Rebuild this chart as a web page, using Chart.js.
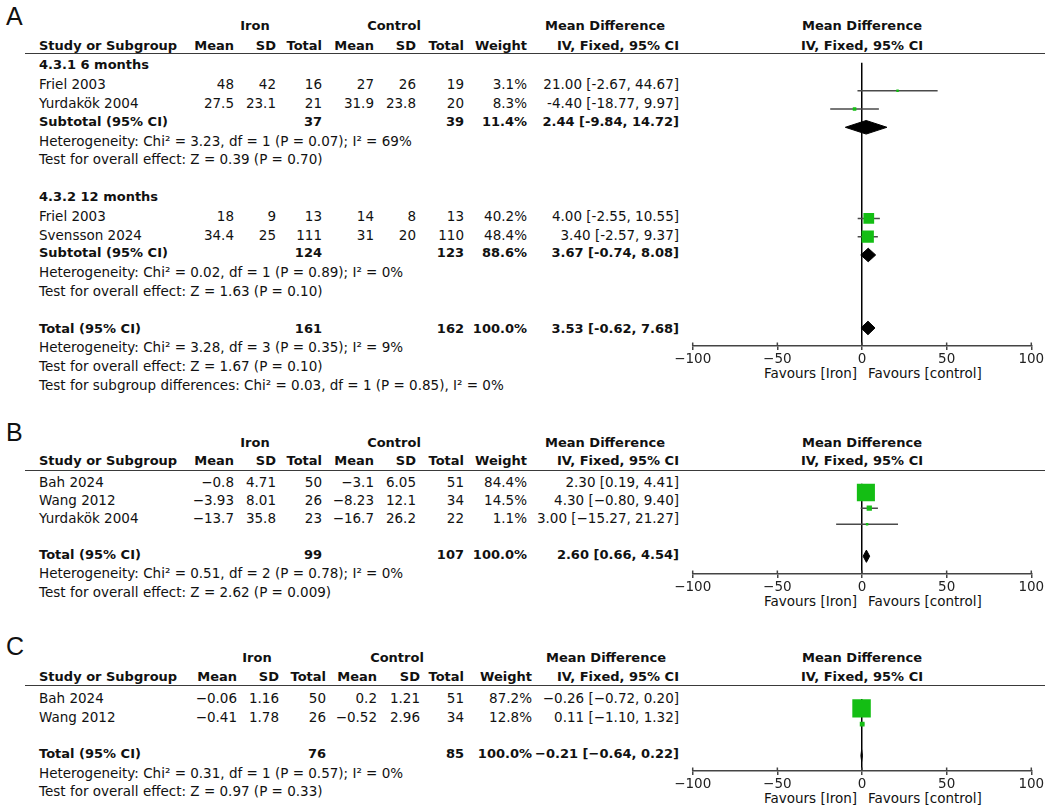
<!DOCTYPE html>
<html>
<head>
<meta charset="utf-8">
<script src="https://cdn.jsdelivr.net/npm/chart.js@4.4.1/dist/chart.umd.min.js"></script>
<style>
  body { margin: 0; background: #fff; }
  #page { position: relative; width: 1049px; height: 810px; overflow: hidden; background: #fff;
          font-family: "DejaVu Sans", sans-serif; color: #111; }
  .t { position: absolute; white-space: nowrap; font-size: 13.5px; line-height: 16px; }
  .b { font-weight: bold; font-size: 13px; }
  .rule { position: absolute; height: 0; border-top: 1.5px solid #3a3a3a; }
  .letter { position: absolute; font-family: "Liberation Sans", sans-serif; font-size: 25px; line-height: 28px; }
  canvas { position: absolute; }
</style>
</head>
<body>
<div id="page"></div>
<script>
// ---------- A: two subgroups (6 / 12 months) ----------
var aStudy    = ["Friel 2003", "Yurdakök 2004", "Friel 2003", "Svensson 2024"];
var aGroupOf  = [0, 0, 1, 1];
var aIronMean = [48, 27.5, 18, 34.4];
var aIronSD   = [42, 23.1, 9, 25];
var aIronN    = [16, 21, 13, 111];
var aCtrlMean = [27, 31.9, 14, 31];
var aCtrlSD   = [26, 23.8, 8, 20];
var aCtrlN    = [19, 20, 13, 110];
var aWeight   = [3.1, 8.3, 40.2, 48.4];
var aMD       = [21.00, -4.40, 4.00, 3.40];
var aLo       = [-2.67, -18.77, -2.55, -2.57];
var aHi       = [44.67, 9.97, 10.55, 9.37];

var aGroupName = ["4.3.1 6 months", "4.3.2 12 months"];
var aSubIronN  = [37, 124];
var aSubCtrlN  = [39, 123];
var aSubWeight = [11.4, 88.6];
var aSubMD     = [2.44, 3.67];
var aSubLo     = [-9.84, -0.74];
var aSubHi     = [14.72, 8.08];
var aSubHet = ["Heterogeneity: Chi² = 3.23, df = 1 (P = 0.07); I² = 69%",
               "Heterogeneity: Chi² = 0.02, df = 1 (P = 0.89); I² = 0%"];
var aSubZ   = ["Test for overall effect: Z = 0.39 (P = 0.70)",
               "Test for overall effect: Z = 1.63 (P = 0.10)"];

var aTotN      = [161, 162];
var aTotEffect = [3.53, -0.62, 7.68];
var aTotNotes  = ["Heterogeneity: Chi² = 3.28, df = 3 (P = 0.35); I² = 9%",
                  "Test for overall effect: Z = 1.67 (P = 0.10)",
                  "Test for subgroup differences: Chi² = 0.03, df = 1 (P = 0.85), I² = 0%"];

// ---------- B ----------
var bStudy    = ["Bah 2024", "Wang 2012", "Yurdakök 2004"];
var bIronMean = [-0.8, -3.93, -13.7];
var bIronSD   = [4.71, 8.01, 35.8];
var bIronN    = [50, 26, 23];
var bCtrlMean = [-3.1, -8.23, -16.7];
var bCtrlSD   = [6.05, 12.1, 26.2];
var bCtrlN    = [51, 34, 22];
var bWeight   = [84.4, 14.5, 1.1];
var bMD       = [2.30, 4.30, 3.00];
var bLo       = [0.19, -0.80, -15.27];
var bHi       = [4.41, 9.40, 21.27];
var bTotN      = [99, 107];
var bTotEffect = [2.60, 0.66, 4.54];
var bTotNotes  = ["Heterogeneity: Chi² = 0.51, df = 2 (P = 0.78); I² = 0%",
                  "Test for overall effect: Z = 2.62 (P = 0.009)"];

// ---------- C ----------
var cStudy    = ["Bah 2024", "Wang 2012"];
var cIronMean = [-0.06, -0.41];
var cIronSD   = [1.16, 1.78];
var cIronN    = [50, 26];
var cCtrlMean = [0.2, -0.52];
var cCtrlSD   = [1.21, 2.96];
var cCtrlN    = [51, 34];
var cWeight   = [87.2, 12.8];
var cMD       = [-0.26, 0.11];
var cLo       = [-0.72, -1.10];
var cHi       = [0.20, 1.32];
var cTotN      = [76, 85];
var cTotEffect = [-0.21, -0.64, 0.22];
var cTotNotes  = ["Heterogeneity: Chi² = 0.31, df = 1 (P = 0.57); I² = 0%",
                  "Test for overall effect: Z = 0.97 (P = 0.33)"];

// shared labels
var xTicks     = [-100, -50, 0, 50, 100];
var groupHeads = ["Iron", "Control"];
var colHeads   = ["Mean", "SD", "Total", "Mean", "SD", "Total", "Weight", "IV, Fixed, 95% CI"];
var favours    = ["Favours [Iron]", "Favours [control]"];

// ---------- page helpers ----------
var W = 1049;
var page = document.getElementById("page");

function txt(x, y, s, align, bold) {
  var d = document.createElement("div");
  d.className = "t" + (bold ? " b" : "");
  d.textContent = s;
  d.style.top = (y - 8) + "px";
  if (align === "right") d.style.right = (W - x) + "px";
  else if (align === "center") { d.style.left = x + "px"; d.style.transform = "translateX(-50%)"; }
  else d.style.left = x + "px";
  page.appendChild(d);
}

function studies(names, im, isd, inn, cm, csd, cn, w, md, lo, hi) {
  return names.map(function (n, i) {
    return { name: n, im: im[i], isd: isd[i], inn: inn[i], cm: cm[i], csd: csd[i], cn: cn[i],
             w: w[i], md: md[i], lo: lo[i], hi: hi[i] };
  });
}

function pool(label, nI, nC, w, eff) {
  return { kind: "pool", label: label, nI: nI, nC: nC, w: w, md: eff[0], lo: eff[1], hi: eff[2] };
}

// rows of panel A
var studyA = studies(aStudy, aIronMean, aIronSD, aIronN, aCtrlMean, aCtrlSD, aCtrlN, aWeight, aMD, aLo, aHi);
var rowsA = [];
aGroupName.forEach(function (g, gi) {
  rowsA.push({ kind: "head", text: g });
  studyA.forEach(function (s, i) { if (aGroupOf[i] === gi) rowsA.push({ kind: "study", s: s }); });
  rowsA.push(pool("Subtotal (95% CI)", aSubIronN[gi], aSubCtrlN[gi], aSubWeight[gi],
                  [aSubMD[gi], aSubLo[gi], aSubHi[gi]]));
  rowsA.push({ kind: "note", text: aSubHet[gi] });
  rowsA.push({ kind: "note", text: aSubZ[gi] });
  rowsA.push({ kind: "blank" });
});
rowsA.push(pool("Total (95% CI)", aTotN[0], aTotN[1], 100, aTotEffect));
aTotNotes.forEach(function (t) { rowsA.push({ kind: "note", text: t }); });

function simpleRows(st, totN, totEff, notes) {
  var rows = st.map(function (s) { return { kind: "study", s: s }; });
  rows.push({ kind: "blank" });
  rows.push(pool("Total (95% CI)", totN[0], totN[1], 100, totEff));
  notes.forEach(function (t) { rows.push({ kind: "note", text: t }); });
  return rows;
}
var rowsB = simpleRows(studies(bStudy, bIronMean, bIronSD, bIronN, bCtrlMean, bCtrlSD, bCtrlN, bWeight, bMD, bLo, bHi),
                       bTotN, bTotEffect, bTotNotes);
var rowsC = simpleRows(studies(cStudy, cIronMean, cIronSD, cIronN, cCtrlMean, cCtrlSD, cCtrlN, cWeight, cMD, cLo, cHi),
                       cTotN, cTotEffect, cTotNotes);

// layout per panel (pixels)
var layA = { letter: "A", letterY: 16,  h1: 26,    h2: 45.5,  rule: 54,  y0: 64.2,  rowH: 18.8, axis: 346,
             cols: [234, 276, 322, 374, 416, 464, 527, 679], iron: 255, control: 394, md: 605, minus: "-" };
var layB = { letter: "B", letterY: 432, h1: 442.5, h2: 461,   rule: 471, y0: 480.5, rowH: 18.3, axis: 574,
             cols: [234, 276, 322, 374, 416, 464, 527, 679], iron: 255, control: 394, md: 605, minus: "−" };
var layC = { letter: "C", letterY: 646, h1: 657.5, h2: 676.5, rule: 686, y0: 697,   rowH: 18.6, axis: 771,
             cols: [237, 279, 326, 377, 420, 464, 532, 679], iron: 257, control: 397, md: 606, minus: "−" };

var tickUp = {
  id: "tickUp",
  afterDraw: function (chart) {
    var s = chart.scales.x, ctx = chart.ctx, b = chart.chartArea.bottom;
    ctx.save();
    ctx.strokeStyle = "#444";
    ctx.lineWidth = 1.5;
    s.ticks.forEach(function (t) {
      var x = s.getPixelForValue(t.value);
      ctx.beginPath(); ctx.moveTo(x, b - 3.5); ctx.lineTo(x, b); ctx.stroke();
    });
    ctx.restore();
  }
};

function panel(L, rows) {
  var m = L.minus;
  function f(v) { return String(v).replace("-", m); }
  function f2(v) { return v.toFixed(2).replace("-", m); }
  function ci(md, lo, hi) { return f2(md) + " [" + f2(lo) + ", " + f2(hi) + "]"; }

  var l = document.createElement("div");
  l.className = "letter"; l.textContent = L.letter;
  l.style.left = "6px"; l.style.top = (L.letterY - 14) + "px";
  page.appendChild(l);

  txt(L.iron, L.h1, groupHeads[0], "center", true);
  txt(L.control, L.h1, groupHeads[1], "center", true);
  txt(L.md, L.h1, "Mean Difference", "center", true);
  txt(862, L.h1, "Mean Difference", "center", true);
  txt(39, L.h2, "Study or Subgroup", "left", true);
  colHeads.forEach(function (h, i) { txt(L.cols[i], L.h2, h, "right", true); });
  txt(862, L.h2, "IV, Fixed, 95% CI", "center", true);

  var r = document.createElement("div");
  r.className = "rule";
  r.style.left = "25px"; r.style.width = "1020px"; r.style.top = (L.rule - 0.75) + "px";
  page.appendChild(r);

  var sq = [], sqSide = [], ciSets = [], dia = [];
  var d = 7 / L.rowH;
  rows.forEach(function (row, k) {
    var y = L.y0 + k * L.rowH + 1.2;
    var c = L.cols;
    if (row.kind === "head") txt(39, y, row.text, "left", true);
    if (row.kind === "note") txt(39, y, row.text, "left", false);
    if (row.kind === "study") {
      var s = row.s;
      txt(39, y, s.name, "left", false);
      [f(s.im), f(s.isd), s.inn, f(s.cm), f(s.csd), s.cn, s.w.toFixed(1) + "%", ci(s.md, s.lo, s.hi)]
        .forEach(function (v, i) { txt(c[i], y, String(v), "right", false); });
      sq.push({ x: s.md, y: k });
      sqSide.push(Math.max(2.5, 0.81 * Math.pow(s.w, 0.7)));
      ciSets.push({ data: [{ x: s.lo, y: k }, { x: s.hi, y: k }], showLine: true,
                    borderColor: "#4a4a4a", borderWidth: 1.5, pointRadius: 0, order: 2 });
    }
    if (row.kind === "pool") {
      txt(39, y, row.label, "left", true);
      txt(c[2], y, String(row.nI), "right", true);
      txt(c[5], y, String(row.nC), "right", true);
      txt(c[6], y, row.w.toFixed(1) + "%", "right", true);
      txt(c[7], y, ci(row.md, row.lo, row.hi), "right", true);
      dia.push({ data: [{ x: row.lo, y: k }, { x: row.md, y: k - d }, { x: row.hi, y: k },
                        { x: row.md, y: k + d }, { x: row.lo, y: k }],
                 showLine: true, fill: "shape", backgroundColor: "#000", borderColor: "#000",
                 borderWidth: 1, pointRadius: 0, tension: 0, order: 1 });
    }
  });

  txt(857, L.axis + 27, favours[0], "right", false);
  txt(868, L.axis + 27, favours[1], "left", false);

  // plot canvas
  var axisH = 40;
  var plotH = L.axis - L.rule;
  var cv = document.createElement("canvas");
  cv.width = 449; cv.height = plotH + axisH;
  cv.style.left = "600px"; cv.style.top = L.rule + "px";
  page.appendChild(cv);

  var datasets = [{
    data: sq, pointStyle: "rect", backgroundColor: "#14be14", borderWidth: 0,
    pointRadius: sqSide.map(function (v) { return v / Math.SQRT2; }),
    pointHoverRadius: sqSide.map(function (v) { return v / Math.SQRT2; }), order: 0
  }].concat(ciSets, dia);

  new Chart(cv.getContext("2d"), {
    type: "scatter",
    data: { datasets: datasets },
    options: {
      responsive: false,
      animation: false,
      layout: { padding: { left: 92.7, right: 17.7, top: 0, bottom: 0 } },
      plugins: { legend: { display: false }, tooltip: { enabled: false } },
      scales: {
        x: {
          type: "linear", min: -100, max: 100,
          afterBuildTicks: function (s) { s.ticks = xTicks.map(function (v) { return { value: v }; }); },
          afterFit: function (s) { s.height = axisH; },
          ticks: { padding: 1, maxRotation: 0, autoSkip: false, color: "#222",
                   font: { family: "DejaVu Sans", size: 13.5 },
                   callback: function (v) { return String(v).replace("-", "−"); } },
          grid: { color: function (ctx) { return ctx.tick && ctx.tick.value === 0 ? "#000" : "rgba(0,0,0,0)"; },
                  lineWidth: 1.5, tickLength: 4, tickColor: "#444", tickWidth: 1.5 },
          border: { display: true, color: "#444", width: 1.5 }
        },
        y: {
          type: "linear", display: false, reverse: true,
          min: (L.rule - L.y0) / L.rowH, max: (L.axis - L.y0) / L.rowH
        }
      }
    },
    plugins: [tickUp]
  });
}

panel(layA, rowsA);
panel(layB, rowsB);
panel(layC, rowsC);
</script>
</body>
</html>
